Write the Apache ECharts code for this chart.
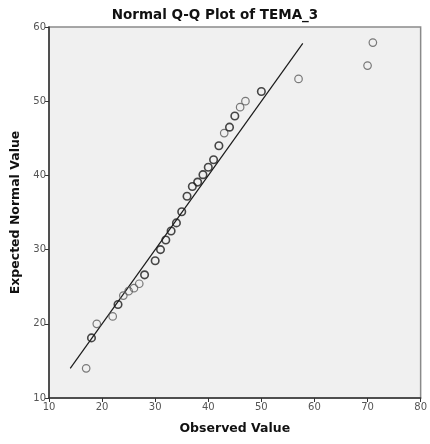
<!DOCTYPE html>
<html>
<head>
<meta charset="utf-8">
<script src="https://cdn.jsdelivr.net/npm/echarts@6/dist/echarts.min.js"></script>
<style>html,body{margin:0;padding:0;background:#fff;}#c{width:430px;height:444px;}</style>
</head>
<body>
<div id="c"></div>
<script>
const observed = [17, 18, 19, 22, 23, 24, 25, 26, 27, 28, 30, 31, 32, 33, 34, 35, 36, 37, 38, 39, 40, 41, 42, 43, 44, 45, 46, 47, 50, 57, 70, 71];
const expected = [14.0, 18.1, 20.0, 21.0, 22.6, 23.8, 24.4, 24.8, 25.4, 26.6, 28.5, 30.0, 31.3, 32.5, 33.6, 35.1, 37.2, 38.5, 39.1, 40.1, 41.1, 42.1, 44.0, 45.7, 46.5, 48.0, 49.2, 50.0, 51.3, 53.0, 54.8, 57.9];
const frequency = [1, 2, 1, 1, 2, 1, 1, 1, 1, 2, 2, 2, 2, 2, 2, 2, 2, 2, 2, 2, 2, 2, 2, 1, 2, 2, 1, 1, 2, 1, 1, 1];
const refLine = [14, 57.8];
const xTicks = [10, 20, 30, 40, 50, 60, 70, 80];
const yTicks = [10, 20, 30, 40, 50, 60];

const chart = echarts.init(document.getElementById('c'), null, {renderer: 'canvas'});
const pts = observed.map((x, i) => ({
  value: [x, expected[i]],
  itemStyle: {
    color: 'rgba(0,0,0,0)',
    borderColor: frequency[i] > 1 ? '#1a1a1a' : '#5a5a5a',
    borderWidth: frequency[i] > 1 ? 1.6 : 1.2
  }
}));
chart.setOption({
  animation: false,
  backgroundColor: '#fff',
  title: {
    text: 'Normal Q-Q Plot of TEMA_3',
    left: 'center', top: 3,
    textStyle: {fontFamily: 'DejaVu Sans', fontSize: 13.5, fontWeight: 'bold', color: '#111'}
  },
  grid: {
    left: 49, right: 8, top: 27, bottom: 46,
    show: true, backgroundColor: '#f0f0f0', borderColor: '#8a8a8a', borderWidth: 1.5
  },
  xAxis: {
    type: 'value', min: xTicks[0], max: xTicks[xTicks.length - 1], interval: 10,
    name: 'Observed Value', nameLocation: 'middle', nameGap: 24,
    nameTextStyle: {fontFamily: 'DejaVu Sans', fontSize: 12.5, fontWeight: 'bold', color: '#111'},
    axisLine: {lineStyle: {color: '#333', width: 1.5}},
    axisTick: {show: true, length: 4, lineStyle: {color: '#333'}},
    axisLabel: {fontFamily: 'DejaVu Sans', fontSize: 10, color: '#555', margin: 4},
    splitLine: {show: false}
  },
  yAxis: {
    type: 'value', min: yTicks[0], max: yTicks[yTicks.length - 1], interval: 10,
    name: 'Expected Normal Value', nameLocation: 'middle', nameGap: 27,
    nameTextStyle: {fontFamily: 'DejaVu Sans', fontSize: 12.5, fontWeight: 'bold', color: '#111'},
    axisLine: {show: true, lineStyle: {color: '#333', width: 1.5}},
    axisTick: {show: true, length: 4, lineStyle: {color: '#333'}},
    axisLabel: {fontFamily: 'DejaVu Sans', fontSize: 10, color: '#555', margin: 3},
    splitLine: {show: false}
  },
  series: [
    {
      type: 'line', data: refLine.map(v => [v, v]), symbol: 'none',
      lineStyle: {color: '#1a1a1a', width: 1.2}, silent: true, z: 2
    },
    {
      type: 'scatter', data: pts, symbol: 'circle', symbolSize: 7.5, z: 3
    }
  ]
});
</script>
</body>
</html>
